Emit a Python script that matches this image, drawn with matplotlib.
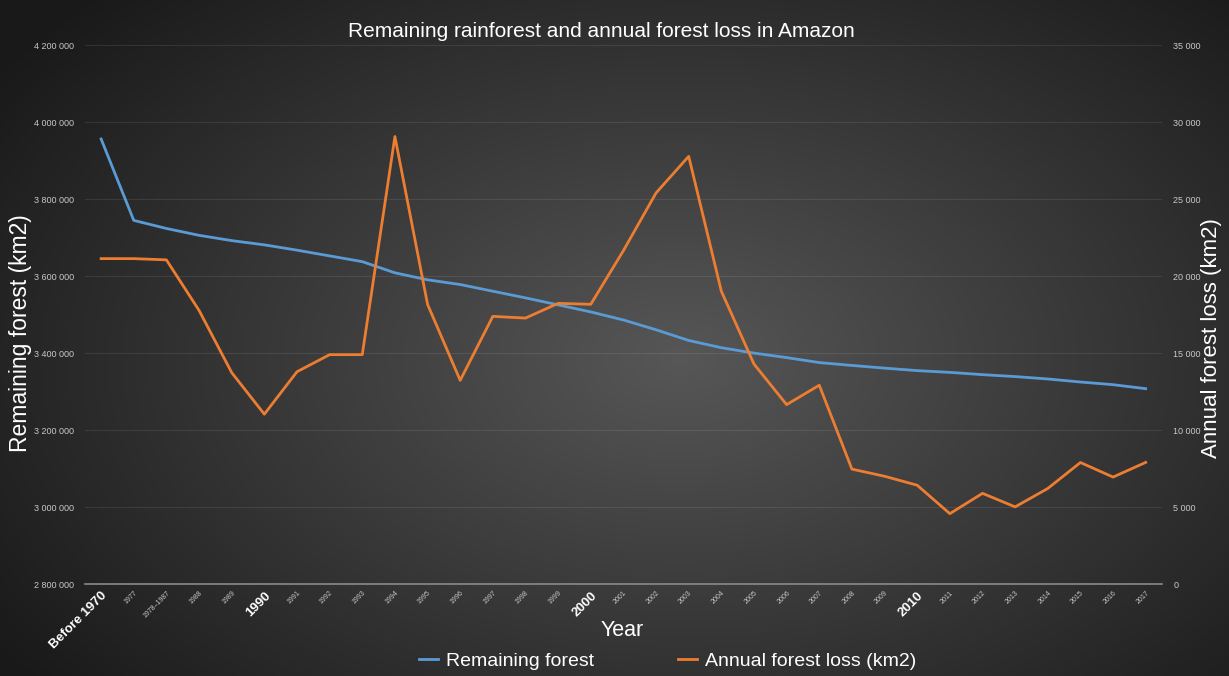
import matplotlib
matplotlib.use("Agg")
import matplotlib.pyplot as plt
import numpy as np
from matplotlib.ticker import FuncFormatter, MultipleLocator

years = ["Before 1970", "1977", "1978–1987"] + [str(y) for y in range(1988, 2018)]

remaining_forest = [
    3955870, 3744570, 3723520, 3705750, 3692020, 3680990, 3667204, 3652308,
    3637412, 3608353, 3590192, 3577965, 3560582, 3543312, 3525053, 3506827,
    3485862, 3460466, 3432694, 3413848, 3399834, 3388183, 3375272, 3367808,
    3360808, 3354357, 3349786, 3343895, 3338883, 3332676, 3324783, 3317836,
    3307500,
]

annual_loss = [
    21130, 21130, 21050, 17770, 13730, 11030, 13786, 14896, 14896, 29059,
    18161, 13227, 17383, 17270, 18226, 18165, 21651, 25396, 27772, 19014,
    14286, 11651, 12911, 7464, 7000, 6418, 4571, 5891, 5012, 6207,
    7893, 6947, 7900,
]

major_labels = {"Before 1970", "1990", "2000", "2010"}

BLUE = "#5b9bd5"
ORANGE = "#ed7d31"
FONT = "Liberation Sans"
plt.rcParams["font.family"] = [FONT, "DejaVu Sans"]


def spaced(v, pos=None):
    return f"{int(v):,}".replace(",", " ")


fig = plt.figure(figsize=(12.29, 6.76), dpi=100)

# radial gradient background
bg = fig.add_axes([0, 0, 1, 1], zorder=-10)
h, w = 676, 1229
yy, xx = np.mgrid[0:h, 0:w]
r = np.sqrt(((xx - 680) / 820.0) ** 2 + ((yy - 360) / 520.0) ** 2)
val = np.clip(0.34 - 0.24 * r, 0.10, 0.36)
bg.imshow(np.dstack([val, val, val]), aspect="auto", extent=[0, 1, 0, 1])
bg.axis("off")

ax = fig.add_axes([0.069, 0.136, 0.8765, 0.7974])
ax.patch.set_alpha(0)
ax2 = ax.twinx()
ax2.patch.set_alpha(0)

x = np.arange(len(years))
ax.plot(x, remaining_forest, color=BLUE, lw=2, label="Remaining forest", zorder=3)
ax2.plot(x, annual_loss, color=ORANGE, lw=2, label="Annual forest loss (km2)", zorder=3)

ax.set_xlim(-0.5, len(years) - 0.5)
ax.set_ylim(2800000, 4200000)
ax2.set_ylim(0, 35000)
ax.yaxis.set_major_locator(MultipleLocator(200000))
ax2.yaxis.set_major_locator(MultipleLocator(5000))
ax.yaxis.set_major_formatter(FuncFormatter(spaced))
ax2.yaxis.set_major_formatter(FuncFormatter(spaced))
ax.grid(axis="y", color="white", alpha=0.09, lw=0.8)
ax.set_axisbelow(True)

for a in (ax, ax2):
    for s in a.spines.values():
        s.set_visible(False)
    a.tick_params(axis="y", length=0, colors="#c8c8c8", labelsize=6.5, pad=8)
ax.spines["bottom"].set_visible(True)
ax.spines["bottom"].set_color("#8a8a8a")
ax.spines["bottom"].set_linewidth(1.2)

ax.set_xticks(x)
ax.set_xticklabels(years)
ax.tick_params(axis="x", length=0, pad=4)
for lbl in ax.get_xticklabels():
    big = lbl.get_text() in major_labels
    lbl.set_rotation(45)
    lbl.set_ha("right")
    lbl.set_rotation_mode("anchor")
    lbl.set_color("white" if big else "#c8c8c8")
    lbl.set_fontsize(9.5 if big else 5)
    lbl.set_fontweight("bold" if big else "normal")

fig.text(0.489, 0.953, "Remaining rainforest and annual forest loss in Amazon",
         ha="center", va="center", color="white", fontsize=15)
fig.text(0.506, 0.068, "Year", ha="center", va="center", color="white", fontsize=15.5)
fig.text(0.017, 0.507, "Remaining forest (km2)", rotation=90, ha="center",
         va="center", color="white", fontsize=16.5)
fig.text(0.986, 0.50, "Annual forest loss (km2)", rotation=90, ha="center",
         va="center", color="white", fontsize=16)

h1, l1 = ax.get_legend_handles_labels()
h2, l2 = ax2.get_legend_handles_labels()
leg = fig.legend(h1 + h2, l1 + l2, loc="center", bbox_to_anchor=(0.543, 0.022),
                 ncol=2, frameon=False, fontsize=14, handlelength=1.0,
                 handletextpad=0.4, columnspacing=4.3)
for t in leg.get_texts():
    t.set_color("white")

fig.savefig("out.png", dpi=100)
